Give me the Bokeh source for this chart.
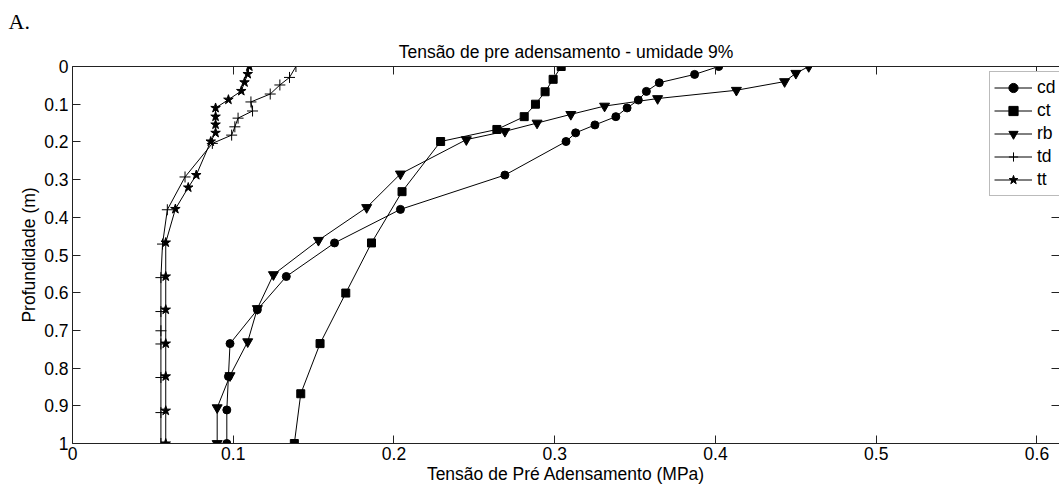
from bokeh.plotting import figure
from bokeh.models import Range1d, LinearAxis, FixedTicker, Legend, LegendItem, Title
from bokeh.embed import file_html
from bokeh.resources import INLINE

# ---- data ----
cd_x = [0.402, 0.387, 0.365, 0.357, 0.352, 0.345, 0.338, 0.325, 0.313, 0.307,
        0.269, 0.204, 0.163, 0.133, 0.115, 0.098, 0.097, 0.096, 0.096]
cd_y = [0.0, 0.021, 0.043, 0.066, 0.089, 0.110, 0.133, 0.155, 0.176, 0.199,
        0.288, 0.379, 0.468, 0.557, 0.645, 0.735, 0.822, 0.911, 1.0]

ct_x = [0.304, 0.299, 0.294, 0.288, 0.281, 0.264, 0.229, 0.205, 0.186, 0.170,
        0.154, 0.142, 0.138]
ct_y = [0.0, 0.034, 0.067, 0.100, 0.133, 0.167, 0.199, 0.332, 0.468, 0.601,
        0.735, 0.868, 1.0]

rb_x = [0.458, 0.450, 0.443, 0.413, 0.364, 0.331, 0.310, 0.289, 0.269, 0.245,
        0.204, 0.183, 0.153, 0.125, 0.115, 0.109, 0.098, 0.090, 0.090]
rb_y = [0.0, 0.018, 0.040, 0.063, 0.085, 0.105, 0.127, 0.150, 0.172, 0.194,
        0.285, 0.374, 0.461, 0.552, 0.642, 0.730, 0.820, 0.905, 1.0]

td_x = [0.139, 0.135, 0.129, 0.123, 0.111, 0.112, 0.103, 0.101, 0.099, 0.087,
        0.070, 0.059, 0.056, 0.055, 0.055, 0.055, 0.055, 0.055, 0.055, 0.055]
td_y = [0.0, 0.029, 0.049, 0.073, 0.094, 0.118, 0.137, 0.160, 0.182, 0.204,
        0.293, 0.380, 0.471, 0.560, 0.650, 0.701, 0.736, 0.825, 0.918, 1.0]

tt_x = [0.110, 0.109, 0.107, 0.105, 0.097, 0.089, 0.089, 0.089, 0.089, 0.086,
        0.077, 0.072, 0.064, 0.058, 0.058, 0.058, 0.058, 0.058, 0.058, 0.058]
tt_y = [0.0, 0.020, 0.042, 0.065, 0.088, 0.110, 0.133, 0.154, 0.176, 0.199,
        0.288, 0.321, 0.378, 0.467, 0.557, 0.645, 0.735, 0.822, 0.913, 1.0]

x_ticks = [0, 0.1, 0.2, 0.3, 0.4, 0.5, 0.6]
x_tick_labels = ["0", "0.1", "0.2", "0.3", "0.4", "0.5", "0.6"]
y_ticks = [0, 0.1, 0.2, 0.3, 0.4, 0.5, 0.6, 0.7, 0.8, 0.9, 1.0]
y_tick_labels = ["0", "0.1", "0.2", "0.3", "0.4", "0.5", "0.6", "0.7", "0.8", "0.9", "1"]

series_names = ["cd", "ct", "rb", "td", "tt"]
title_text = "Tensão de pre adensamento - umidade 9%"
x_label = "Tensão de Pré Adensamento (MPa)"
y_label = "Profundidade (m)"
panel_tag = "A."

FONT = "Liberation Sans"
FS = "17.5px"

p = figure(width=1059, height=488, output_backend="svg", toolbar_location=None,
           x_range=Range1d(0, 0.614), y_range=Range1d(1, 0),
           x_axis_location=None, y_axis_location=None,
           min_border_left=72, min_border_right=0, min_border_bottom=45, min_border_top=66)
p.outline_line_color = None
p.xgrid.visible = False
p.ygrid.visible = False
p.background_fill_color = "white"
p.border_fill_color = "white"

def style_axis(ax, ticks, labels, show_labels):
    ax.ticker = FixedTicker(ticks=ticks)
    ax.minor_tick_line_color = None
    ax.major_tick_in = 8
    ax.major_tick_out = 0
    ax.axis_line_color = "#222222"
    ax.major_tick_line_color = "#222222"
    ax.major_label_text_font = FONT
    ax.axis_label_text_font = FONT
    ax.axis_label_text_font_style = "normal"
    ax.axis_label_text_font_size = FS
    ax.axis_label_text_color = "black"
    if show_labels:
        ax.major_label_overrides = {t: l for t, l in zip(ticks, labels)}
        ax.major_label_text_font_size = FS
        ax.major_label_text_color = "black"
    else:
        ax.major_label_text_font_size = "0px"
        ax.major_label_text_color = None
        ax.major_label_text_alpha = 0
        ax.major_label_standoff = 0

xb = LinearAxis(axis_label=x_label)
style_axis(xb, x_ticks, x_tick_labels, True)
xb.major_label_standoff = 3
xb.axis_label_standoff = 1
p.add_layout(xb, "below")

yl = LinearAxis(axis_label=y_label)
style_axis(yl, y_ticks, y_tick_labels, True)
yl.major_label_standoff = 4
yl.axis_label_standoff = 2
p.add_layout(yl, "left")

xt = LinearAxis()
style_axis(xt, x_ticks, x_tick_labels, False)
p.add_layout(xt, "above")

yr = LinearAxis()
style_axis(yr, y_ticks, y_tick_labels, False)
p.add_layout(yr, "right")

t_main = Title(text=title_text, align="center", text_font=FONT, text_font_size=FS,
               text_font_style="normal", text_color="black", standoff=10)
p.add_layout(t_main, "above")
t_tag = Title(text=panel_tag, align="left", offset=-64, text_font="Liberation Serif",
              text_font_size="22px", text_font_style="normal", text_color="black", standoff=1)
p.add_layout(t_tag, "above")

specs = [
    (cd_x, cd_y, "circle", 8),
    (ct_x, ct_y, "square", 8),
    (rb_x, rb_y, "inverted_triangle", 10),
    (td_x, td_y, "cross", 11),
    (tt_x, tt_y, "star", 10),
]
items = []
for name, (xs, ys, mk, sz) in zip(series_names, specs):
    r_line = p.line(xs, ys, line_color="black", line_width=1)
    r_pts = p.scatter(xs, ys, marker=mk, size=sz, fill_color="black", line_color="black",
                      line_width=1)
    items.append(LegendItem(label=name, renderers=[r_line, r_pts]))

legend = Legend(items=items, location=(917, 247), orientation="vertical",
                label_text_font=FONT, label_text_font_size=FS, label_text_color="black",
                glyph_width=38, glyph_height=23, label_height=23, spacing=0, padding=4,
                label_standoff=5, border_line_color="#777777", border_line_width=1,
                background_fill_color="white", background_fill_alpha=1)
p.add_layout(legend, "center")

open("out.html", "w").write(file_html(p, INLINE))
